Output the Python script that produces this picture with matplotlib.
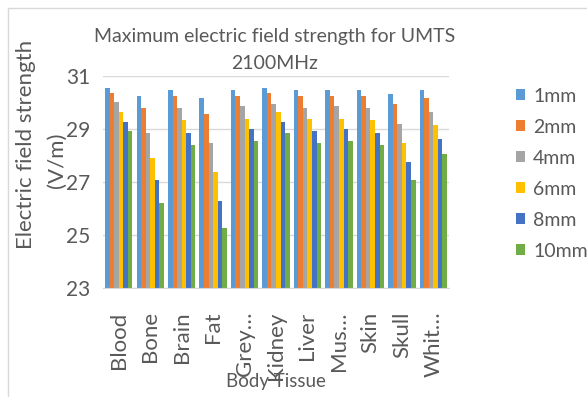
import numpy as np
import matplotlib.pyplot as plt
from matplotlib.patches import Rectangle

plt.rcParams['font.family'] = ['Lato', 'DejaVu Sans']

tissues = ['Blood', 'Bone', 'Brain', 'Fat', 'Grey…', 'Kidney', 'Liver', 'Mus…', 'Skin', 'Skull', 'Whit…']
series = ['1mm', '2mm', '4mm', '6mm', '8mm', '10mm']
e_1mm = [30.55, 30.25, 30.47, 30.17, 30.47, 30.55, 30.47, 30.47, 30.47, 30.32, 30.47]
e_2mm = [30.34, 29.77, 30.25, 29.55, 30.25, 30.34, 30.25, 30.25, 30.25, 29.94, 30.17]
e_4mm = [30.02, 28.85, 29.78, 28.45, 29.86, 29.94, 29.78, 29.86, 29.78, 29.17, 29.63]
e_6mm = [29.62, 27.91, 29.32, 27.35, 29.38, 29.62, 29.38, 29.38, 29.32, 28.45, 29.15]
e_8mm = [29.24, 27.05, 28.85, 26.27, 29.00, 29.24, 28.92, 29.00, 28.85, 27.75, 28.61]
e_10mm = [28.92, 26.20, 28.37, 25.26, 28.54, 28.85, 28.45, 28.54, 28.37, 27.05, 28.06]
values = [e_1mm, e_2mm, e_4mm, e_6mm, e_8mm, e_10mm]
colors = ['#5B9BD5', '#ED7D31', '#A5A5A5', '#FFC000', '#4472C4', '#70AD47']

txt = '#595959'
fig = plt.figure(figsize=(5.87, 3.97), dpi=100)
fig.patches.append(Rectangle((8 / 587, -0.1), 1.2, 1.1 - 8 / 397, transform=fig.transFigure,
                             fill=False, edgecolor='#D9D9D9', linewidth=1))
ax = fig.add_axes([0.1755, 0.2753, 0.5895, 0.534])

x = np.arange(len(tissues))
w = 0.145
for i, (name, vals) in enumerate(zip(series, values)):
    ax.bar(x + (i - 2.5) * w, np.array(vals) - 23, w, bottom=23, color=colors[i], label=name)

ax.set_ylim(23, 31)
ax.set_xlim(-0.5, len(tissues) - 0.5)
ax.set_yticks([23, 25, 27, 29, 31])
ax.set_xticks(x)
ax.set_xticklabels(tissues, rotation=90, fontsize=16, color=txt)
ax.tick_params(axis='y', labelsize=15, colors=txt, length=0, pad=9)
ax.tick_params(axis='x', length=0, pad=17)
ax.grid(axis='y', color='#D9D9D9', linewidth=1)
ax.set_axisbelow(True)
for s in ['top', 'right', 'left']:
    ax.spines[s].set_visible(False)
ax.spines['bottom'].set_color('#D9D9D9')

ax.set_xlabel('Body Tissue', fontsize=13.5, color=txt, labelpad=-5)
# y title wraps onto two lines, second line sits a bit lower
ax.set_ylabel('Electric field strength', fontsize=16, color=txt)
ax.yaxis.set_label_coords(-0.195, 0.678)
ax.text(-0.133, 0.6, '(V/m)', transform=ax.transAxes, rotation=90, ha='center', va='center',
        fontsize=16, color=txt)
fig.text(0.467, 0.93, 'Maximum electric field strength for UMTS\n2100MHz', ha='center', va='top',
         fontsize=14, color=txt, linespacing=1.7)

ax.legend(loc='upper left', bbox_to_anchor=(1.17, 0.98), frameon=False, fontsize=14,
          labelcolor=txt, handlelength=0.5, handleheight=0.5, handletextpad=0.4, labelspacing=0.72,
          borderaxespad=0)

fig.savefig('out.png', dpi=100)
